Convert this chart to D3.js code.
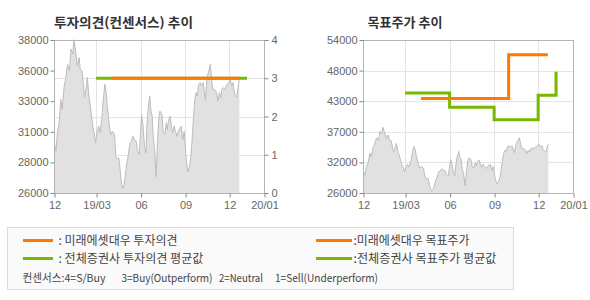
<!DOCTYPE html>
<html><head><meta charset="utf-8">
<script src="https://cdn.jsdelivr.net/npm/d3@7"></script>
<style>body{margin:0;background:#fff}svg{display:block}</style>
</head><body><svg id="c" width="590" height="300"></svg>
<script>
// ---------- data ----------
const startDate = "2018-12-04";
const priceDays = [1,4,7,11,14,17,21,24,28,32,35,39,41,45,48,52,54,58,61,63,66,69,72,76,80,83,86,89,92,95,99,102,105,108,110,114,117,121,125,128,131,134,136,139,142,145,147,150,153,157,160,163,166,170,172,176,178,181,184,187,190,192,195,198,200,203,205,208,211,214,217,219,223,226,229,232,234,237,240,243,245,248,251,254,257,261,263,266,269,272,274,277,280,283,285,288,291,294,296,299,302,305,308,310,313,316,318,321,323,325,328,331,334,336,339,342,345,347,350,353,356,358,361,364,367,370,372,375,378,380,383];
const prices = [29920,29260,30710,31630,33340,32550,34390,34920,36100,35580,37290,36900,38020,37030,35970,36630,35710,35580,34390,33480,34130,35060,33600,32550,31240,30710,29920,30840,31240,30740,31900,33340,34530,33870,32810,31370,30580,30840,30580,28870,28660,28740,28080,26890,26370,26630,27290,28210,28870,29920,30050,30450,30180,30050,29390,29000,30180,32160,31240,29650,29130,31240,32810,33600,32550,32030,30450,29390,27290,30180,32030,32420,32160,30710,30580,31500,30970,31760,32030,31110,30710,31240,30840,30450,30840,31110,31240,30180,30840,29260,28340,27680,28080,28870,29920,31760,33340,33870,33600,34530,34660,34390,34660,34130,33340,34920,35320,35710,36100,35320,34130,34130,34000,33870,33210,33870,33480,34130,34260,34130,34390,34530,34660,34920,34390,34660,34000,33600,33480,34260,34920];

const opinionAvgDates = ["2019-03-01","2020-01-07"];
const opinionAvgValues = [3,3];
const opinionMiraeDates = ["2019-04-03","2019-12-21"];
const opinionMiraeValues = [3,3];

const targetAvgDates = ["2019-03-01","2019-06-01","2019-09-01","2019-12-01","2020-01-07"];
const targetAvgValues = [44300,41700,39400,43900,48200];
const targetMiraeDates = ["2019-04-03","2019-10-01","2019-12-21"];
const targetMiraeValues = [43300,51300,51300];

const xDomain = ["2018-12-04","2020-02-11"];
const xTickDates = ["2018-12-04","2019-03-01","2019-06-01","2019-09-01","2019-12-01","2020-02-11"];
const xTickLabels = ["12","19/03","06","09","12","20/01"];
const xGridDates = ["2019-03-01","2019-06-01","2019-09-01","2019-12-01"];

const priceTicksL = [26000,28400,30800,33200,35600,38000];
const priceTickLabelsL = ["26000","28000","31000","33000","36000","38000"];
const opinionTicks = [0,1,2,3,4];
const priceTicksR = [26000,31600,37200,42800,48400,54000];
const priceTickLabelsR = ["26000","32000","37000","43000","48000","54000"];

const titles = ["투자의견(컨센서스) 추이","목표주가 추이"];
const legendLabels = [": 미래에셋대우 투자의견",": 전체증권사 투자의견 평균값",":미래에셋대우 목표주가",":전체증권사 목표주가 평균값"];
const consensusNote = ["컨센서스:4=S/Buy","3=Buy(Outperform)","2=Neutral","1=Sell(Underperform)"];

// ---------- drawing ----------
const ORANGE = "#ff7800", GREEN = "#76b900";
const parse = d3.timeParse("%Y-%m-%d");
const t0 = parse(startDate);
const priceData = priceDays.map((d,i)=>({date:d3.timeDay.offset(t0,d), v:prices[i]}));
const svg = d3.select("#c");
const FONT = "'Liberation Sans', Arial, sans-serif";
const KFONT = "'Noto Sans CJK KR', sans-serif";
const yTop = 40, yBot = 193;

function panel(x0, x1, yPriceDomain, yTicks, yTickLabels, opts){
  const g = svg.append("g");
  const x = d3.scaleTime().domain(xDomain.map(parse)).range([x0,x1]);
  const yP = d3.scaleLinear().domain(yPriceDomain).range([yBot, yTop]);
  const gridY = opts.gridScale;
  g.append("g").selectAll("line").data(opts.gridVals).join("line")
    .attr("x1",x0).attr("x2",x1)
    .attr("y1",d=>Math.round(gridY(d))+0.5).attr("y2",d=>Math.round(gridY(d))+0.5)
    .attr("stroke","#e4e4e4");
  g.append("g").selectAll("line").data(xGridDates.map(parse)).join("line")
    .attr("x1",d=>Math.round(x(d))+0.5).attr("x2",d=>Math.round(x(d))+0.5)
    .attr("y1",yTop).attr("y2",yBot)
    .attr("stroke","#e4e4e4");
  const area = d3.area().x(d=>x(d.date)).y0(yBot).y1(d=>yP(d.v));
  const line = d3.line().x(d=>x(d.date)).y(d=>yP(d.v));
  g.append("path").datum(priceData).attr("d",area).attr("fill","#e1e1e1");
  g.append("path").datum(priceData).attr("d",line).attr("fill","none").attr("stroke","#bdbdbd").attr("stroke-width",1);
  opts.series.forEach(s=>{
    const pts = s.dates.map((d,i)=>({date:parse(d), v:s.values[i]}));
    g.append("path").datum(pts)
      .attr("d",d3.line().curve(d3.curveStepAfter).x(d=>x(d.date)).y(d=>s.scale(d.v)))
      .attr("fill","none").attr("stroke",s.color).attr("stroke-width",3);
  });
  g.append("rect").attr("x",x0+0.5).attr("y",yTop+0.5).attr("width",x1-x0).attr("height",yBot-yTop)
    .attr("fill","none").attr("stroke","#b4b4b4");
  const axL = d3.axisLeft(yP).tickValues(yTicks).tickSize(4).tickPadding(2)
    .tickFormat((d,i)=>yTickLabels[i]);
  const gL = g.append("g").attr("transform",`translate(${x0+0.5},0)`).call(axL);
  gL.select(".domain").remove();
  gL.selectAll(".tick line").attr("stroke","#888");
  gL.selectAll("text").attr("fill","#666").style("font-family",FONT).style("font-size","11px");
  if(opts.rightScale){
    const axR = d3.axisRight(opts.rightScale).tickValues(opinionTicks).tickSize(4).tickPadding(3)
      .tickFormat(d3.format("d"));
    const gR = g.append("g").attr("transform",`translate(${x1+0.5},0)`).call(axR);
    gR.select(".domain").remove();
    gR.selectAll(".tick line").attr("stroke","#888");
    gR.selectAll("text").attr("fill","#666").style("font-family",FONT).style("font-size","11px");
  }
  const axB = d3.axisBottom(x).tickValues(xTickDates.map(parse)).tickSize(4).tickPadding(4)
    .tickFormat((d,i)=>xTickLabels[i]);
  const gB = g.append("g").attr("transform",`translate(0.5,${yBot+0.5})`).call(axB);
  gB.select(".domain").remove();
  gB.selectAll(".tick line").attr("stroke","#888");
  gB.selectAll("text").attr("fill","#666").style("font-family",FONT).style("font-size","11px");
  svg.append("text").attr("x",opts.titleX).attr("y",26.5).text(opts.title)
    .attr("textLength",opts.titleW).attr("lengthAdjust","spacingAndGlyphs")
    .attr("fill","#333").style("font-family",KFONT).style("font-weight","bold").style("font-size","13px");
}

const yOpL = d3.scaleLinear().domain([0,4]).range([yBot, yTop]);
panel(54, 264, [26000,38000], priceTicksL, priceTickLabelsL, {
  gridScale: yOpL, gridVals: opinionTicks, rightScale: yOpL, title: titles[0], titleX: 54, titleW: 139,
  series: [
    {dates:opinionAvgDates, values:opinionAvgValues, color:GREEN, scale:yOpL},
    {dates:opinionMiraeDates, values:opinionMiraeValues, color:ORANGE, scale:yOpL}
  ]
});
const yPR = d3.scaleLinear().domain([26000,54000]).range([yBot, yTop]);
panel(363, 573, [26000,54000], priceTicksR, priceTickLabelsR, {
  gridScale: yPR, gridVals: priceTicksR, rightScale: null, title: titles[1], titleX: 367.5, titleW: 75,
  series: [
    {dates:targetAvgDates, values:targetAvgValues, color:GREEN, scale:yPR},
    {dates:targetMiraeDates, values:targetMiraeValues, color:ORANGE, scale:yPR}
  ]
});

const lg = svg.append("g");
lg.append("rect").attr("x",7.5).attr("y",227.5).attr("width",506).attr("height",62)
  .attr("fill","#fafafa").attr("stroke","#dcdcdc");
const legendItems = [
  {x1:23,x2:53,tx:58.5,w:119,y:240.5,color:ORANGE,label:legendLabels[0]},
  {x1:23,x2:53,tx:58.5,w:145,y:258.5,color:GREEN,label:legendLabels[1]},
  {x1:316,x2:352,tx:353.5,w:116,y:240.5,color:ORANGE,label:legendLabels[2]},
  {x1:316,x2:352,tx:353.5,w:143,y:258.5,color:GREEN,label:legendLabels[3]}
];
legendItems.forEach(d=>{
  lg.append("line").attr("x1",d.x1).attr("x2",d.x2).attr("y1",d.y).attr("y2",d.y)
    .attr("stroke",d.color).attr("stroke-width",3);
  lg.append("text").attr("x",d.tx).attr("y",d.y+4.5).text(d.label)
    .attr("textLength",d.w).attr("lengthAdjust","spacingAndGlyphs")
    .attr("fill","#444").style("font-family",KFONT).style("font-size","12px");
});
const noteX = [22.5,121.5,219,275];
const noteW = [83,91,44,103];
consensusNote.forEach((t,i)=>{
  lg.append("text").attr("x",noteX[i]).attr("y",281.5).text(t)
    .attr("textLength",noteW[i]).attr("lengthAdjust","spacingAndGlyphs")
    .attr("fill","#444").style("font-family",KFONT).style("font-size","11px");
});
</script></body></html>
